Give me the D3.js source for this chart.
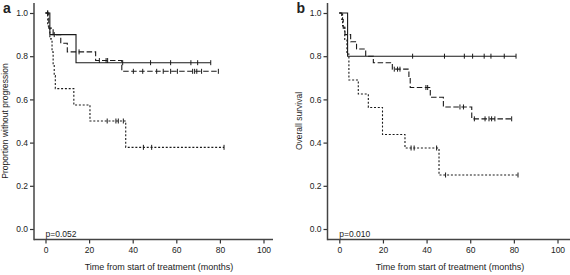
<!DOCTYPE html>
<html><head><meta charset="utf-8">
<script src="https://cdn.jsdelivr.net/npm/d3@7"></script>
<style>
html,body{margin:0;padding:0;background:#fff;}
svg text{font-family:"Liberation Sans",Arial,sans-serif;fill:#222;}
</style></head>
<body><svg id="c" width="570" height="275"></svg>
<script>
// ---- data ----
const xTicks = [0, 20, 40, 60, 80, 100];
const yTicks = [0, 0.2, 0.4, 0.6, 0.8, 1.0];

// Panel a: progression-free
const aSolidT = [0, 2, 14];
const aSolidS = [1, 0.9, 0.77];
const aSolidEnd = 75.8;
const aSolidCens = [1, 35.4, 48.2, 57.4, 66.7, 69.8, 75.8];

const aLongT = [0, 1.5, 3.5, 7, 10, 23, 35];
const aLongS = [1, 0.93, 0.9, 0.86, 0.82, 0.78, 0.73];
const aLongEnd = 79.3;
const aLongCens = [1, 4, 15.4, 24.7, 27.8, 28.5, 40.3, 44.6, 51, 54, 57.4, 60.5, 67.5, 68.4, 69.4, 71.6, 79.3];

const aShortT = [0, 1, 2, 3, 3.5, 4, 4.5, 13, 20.4, 36.8];
const aShortS = [1, 0.94, 0.88, 0.82, 0.76, 0.71, 0.65, 0.574, 0.50, 0.378];
const aShortEnd = 81.9;
const aShortCens = [28.3, 32.3, 33.4, 35.7, 44.9, 48.7, 81.9];

// Panel b: overall survival
const bSolidT = [0, 3.8];
const bSolidS = [1, 0.8];
const bSolidEnd = 81;
const bSolidCens = [33.6, 48.2, 57.3, 61.1, 66.4, 69.5, 75.6, 81];

const bLongT = [0, 1.1, 1.8, 2.6, 5.2, 7.9, 12.1, 15.6, 24.3, 31.9, 32.5, 41.7, 47.7, 60.7];
const bLongS = [1, 0.97, 0.93, 0.9, 0.867, 0.833, 0.8, 0.77, 0.74, 0.70, 0.655, 0.61, 0.565, 0.51];
const bLongEnd = 79;
const bLongCens = [25.2, 26.7, 27.8, 39.7, 40.5, 55.3, 56.9, 61.9, 66.8, 68.6, 69.8, 71.3, 79];

const bShortT = [0, 1.5, 2.5, 3.5, 4.4, 8.7, 13.3, 19.8, 30.1, 45.7];
const bShortS = [1, 0.94, 0.875, 0.81, 0.69, 0.625, 0.5625, 0.4375, 0.375, 0.25];
const bShortEnd = 81.9;
const bShortCens = [32.9, 34.3, 44.6, 48.7, 81.9];

const panels = [
  {label:"a", ylab:"Proportion without progression", p:"p=0.052", axisX:34, x0:45.5, x1:263.5, xEnd:273, titleX:159,
   curves:[
    {t:aSolidT, s:aSolidS, end:aSolidEnd, c:aSolidCens, dash:null},
    {t:aLongT, s:aLongS, end:aLongEnd, c:aLongCens, dash:"5.5,2.5"},
    {t:aShortT, s:aShortS, end:aShortEnd, c:aShortCens, dash:"2,1.8"}]},
  {label:"b", ylab:"Overall survival", p:"p=0.010", axisX:327.5, x0:339.3, x1:557.5, xEnd:570, titleX:450,
   curves:[
    {t:bSolidT, s:bSolidS, end:bSolidEnd, c:bSolidCens, dash:null},
    {t:bLongT, s:bLongS, end:bLongEnd, c:bLongCens, dash:"5.5,2.5"},
    {t:bShortT, s:bShortS, end:bShortEnd, c:bShortCens, dash:"2,1.8"}]}
];

const svg = d3.select("#c");
const y = d3.scaleLinear().domain([0,1]).range([229,13]);
const xAxisY = 239.5;

panels.forEach(P => {
  const x = d3.scaleLinear().domain([0,100]).range([P.x0, P.x1]);
  const g = svg.append("g");

  // y axis
  const ya = g.append("g").attr("transform",`translate(${P.axisX},0)`)
    .call(d3.axisLeft(y).tickValues(yTicks).tickFormat(d3.format(".1f")).tickSize(4).tickSizeOuter(0).tickPadding(2));
  ya.select(".domain").remove();
  ya.selectAll(".tick line").attr("stroke","#333").attr("stroke-width",1.2);
  ya.selectAll(".tick text").attr("font-size","8.5px").attr("fill","#222").style("font-family","'Liberation Sans',Arial,sans-serif");
  g.append("line").attr("x1",P.axisX).attr("x2",P.axisX).attr("y1",3).attr("y2",xAxisY+0.75)
    .attr("stroke","#444").attr("stroke-width",1.5);

  // x axis
  const xa = g.append("g").attr("transform",`translate(0,${xAxisY})`)
    .call(d3.axisBottom(x).tickValues(xTicks).tickSize(4).tickSizeOuter(0).tickPadding(3));
  xa.select(".domain").remove();
  xa.selectAll(".tick line").attr("stroke","#333").attr("stroke-width",1.2);
  xa.selectAll(".tick text").attr("font-size","8.5px").attr("fill","#222").style("font-family","'Liberation Sans',Arial,sans-serif");
  g.append("line").attr("x1",P.axisX).attr("x2",P.xEnd).attr("y1",xAxisY).attr("y2",xAxisY)
    .attr("stroke","#444").attr("stroke-width",1.5);

  // labels
  g.append("text").attr("x",P.titleX).attr("y",269.5).attr("text-anchor","middle")
    .attr("font-size","9px").text("Time from start of treatment (months)");
  g.append("text").attr("transform",`translate(${P.axisX-26},121) rotate(-90)`).attr("text-anchor","middle")
    .attr("font-size","8.5px").text(P.ylab);
  g.append("text").attr("x",P.axisX-31).attr("y",13).attr("font-size","14px").attr("font-weight","bold").text(P.label);
  g.append("text").attr("x",x(0)).attr("y",237).attr("font-size","8.5px").text(P.p);

  // curves
  P.curves.forEach(C => {
    const pts = [];
    for (let i=0;i<C.t.length;i++){
      if (i>0) pts.push([C.t[i], C.s[i-1]]);
      pts.push([C.t[i], C.s[i]]);
    }
    pts.push([C.end, C.s[C.s.length-1]]);
    const line = d3.line().x(d=>x(d[0])).y(d=>y(d[1]));
    const path = g.append("path").attr("d", line(pts)).attr("fill","none")
      .attr("stroke","#1a1a1a").attr("stroke-width",1.1);
    if (C.dash) path.attr("stroke-dasharray", C.dash);
    const sAt = t => { let v=C.s[0]; for (let i=0;i<C.t.length;i++){ if (C.t[i]<=t) v=C.s[i]; } return v; };
    g.selectAll(null).data(C.c).enter().append("line")
      .attr("x1",d=>x(d)).attr("x2",d=>x(d))
      .attr("y1",d=>y(sAt(d))-2.5).attr("y2",d=>y(sAt(d))+2.5)
      .attr("stroke","#1a1a1a").attr("stroke-width",1);
  });
});
</script></body></html>
